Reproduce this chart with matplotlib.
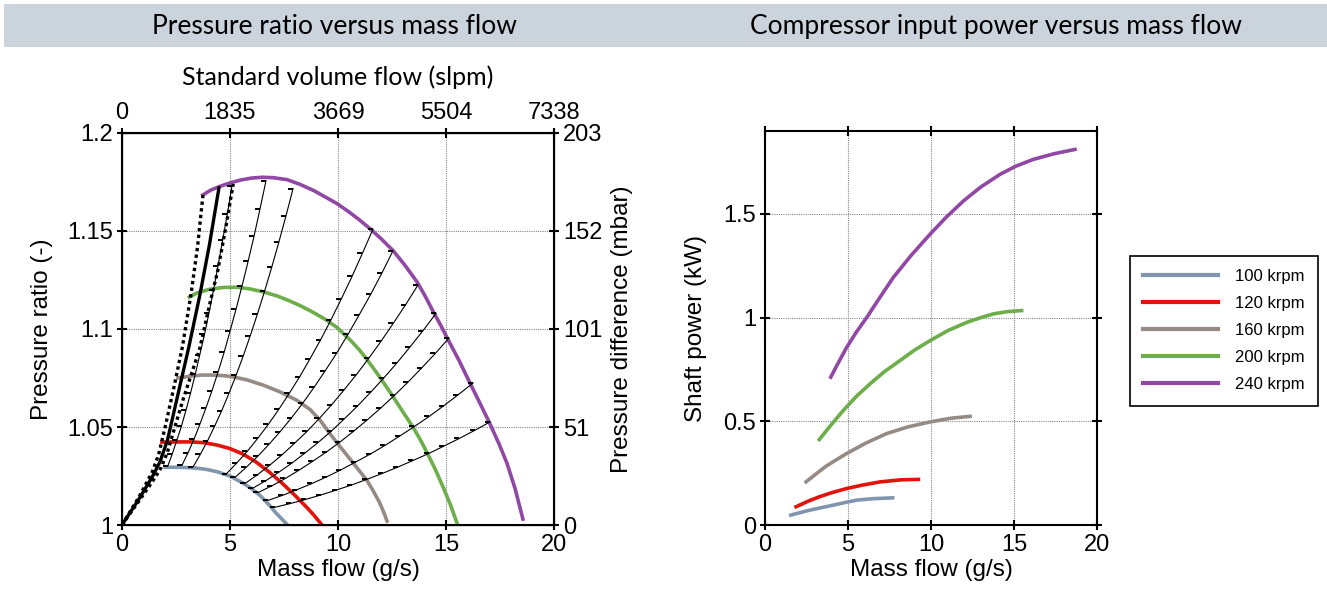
import matplotlib
matplotlib.use('Agg')
import matplotlib.pyplot as plt
from matplotlib.path import Path
from matplotlib.patches import Rectangle

plt.rcParams['font.family'] = ['Liberation Sans', 'DejaVu Sans']

speed_labels = ['100 krpm', '120 krpm', '160 krpm', '200 krpm', '240 krpm']
speed_colors = ['#8096AE', '#E3120B', '#968B84', '#6DAE4A', '#9148A5']

# speed lines, pressure ratio vs mass flow
pr_flow_100 = [2.0, 2.8, 3.38, 3.9, 4.4, 5.0, 5.6, 6.0, 6.4, 6.85, 7.1, 7.38, 7.64]
pr_ratio_100 = [1.0295, 1.0294, 1.0291, 1.0284, 1.0272, 1.0250, 1.0214, 1.0185, 1.0150, 1.0098, 1.0065, 1.0033, 1.0003]
pr_flow_120 = [1.85, 2.5, 3.2, 3.8, 4.4, 5.0, 5.6, 6.2, 6.8, 7.4, 8.0, 8.6, 8.9, 9.2]
pr_ratio_120 = [1.0423, 1.0424, 1.0424, 1.0420, 1.0408, 1.0390, 1.0362, 1.0322, 1.0272, 1.0215, 1.0152, 1.0085,
                1.0048, 1.0008]
pr_flow_160 = [2.59, 3.2, 3.7, 4.21, 4.7, 5.14, 5.8, 6.53, 7.3, 8.1, 8.7, 9.17, 9.6, 9.95, 10.35, 10.69, 11.0,
               11.34, 11.6, 11.9, 12.1, 12.27]
pr_ratio_160 = [1.0750, 1.0760, 1.0765, 1.0765, 1.0762, 1.0756, 1.0740, 1.0714, 1.0680, 1.0636, 1.0590, 1.0535,
                1.0470, 1.0420, 1.0365, 1.0318, 1.0275, 1.0228, 1.0180, 1.0120, 1.0070, 1.0020]
pr_flow_200 = [3.12, 3.5, 4.07, 4.7, 5.32, 5.9, 6.53, 7.2, 7.7, 8.24, 8.8, 9.4, 9.95, 10.6, 11.0, 11.34, 11.9,
               12.55, 13.0, 13.47, 13.8, 14.12, 14.5, 14.86, 15.2, 15.51]
pr_ratio_200 = [1.1163, 1.1185, 1.1203, 1.1212, 1.1213, 1.1205, 1.1190, 1.1168, 1.1146, 1.1120, 1.1088, 1.1050,
                1.1008, 1.0940, 1.0892, 1.0845, 1.0760, 1.0655, 1.0578, 1.0500, 1.0437, 1.0370, 1.0285, 1.0195,
                1.0105, 1.0010]
pr_flow_240 = [3.75, 4.1, 4.54, 5.0, 5.5, 6.0, 6.5, 7.0, 7.64, 8.24, 8.9, 9.5, 9.95, 10.5, 11.0, 11.48, 12.0,
               12.55, 13.1, 13.66, 14.05, 14.4, 14.75, 15.05, 15.6, 16.11, 16.6, 17.04, 17.45, 17.82, 18.2, 18.56]
pr_ratio_240 = [1.1684, 1.1708, 1.1728, 1.1745, 1.1760, 1.1770, 1.1774, 1.1772, 1.1762, 1.1738, 1.1705, 1.1668,
                1.1640, 1.1598, 1.1556, 1.1512, 1.1460, 1.1400, 1.1325, 1.1240, 1.1165, 1.1090, 1.1020, 1.0955,
                1.0840, 1.0724, 1.0615, 1.0515, 1.0415, 1.0316, 1.0185, 1.0030]

# surge line and its band
surge_flow = [0, 0.8, 1.4, 1.75, 2.1, 2.6, 3.1, 3.6, 4.05, 4.49]
surge_ratio = [1.0, 1.0135, 1.0245, 1.032, 1.043, 1.067, 1.091, 1.117, 1.143, 1.172]
surge_lo_flow = [0, 0.8, 1.4, 1.7, 2.0, 2.4, 2.8, 3.2, 3.5, 3.75]
surge_lo_ratio = [1.0, 1.0145, 1.027, 1.036, 1.050, 1.070, 1.091, 1.118, 1.142, 1.1684]
surge_hi_flow = [0, 0.8, 1.4, 1.8, 2.1, 2.8, 3.6, 4.07, 4.44, 4.81, 5.15]
surge_hi_ratio = [1.0, 1.0125, 1.022, 1.029, 1.037, 1.063, 1.090, 1.113, 1.130, 1.152, 1.174]

# throttle lines (fixed valve, speed sweep)
throttle_flow = [
    [2.12, 2.33, 2.54, 2.76, 2.97, 3.18, 3.39, 3.60, 3.82, 4.03, 4.24, 4.45, 4.66, 4.88, 5.09],
    [2.78, 3.06, 3.34, 3.61, 3.89, 4.17, 4.45, 4.73, 5.00, 5.28, 5.56, 5.84, 6.12, 6.39, 6.67],
    [3.30, 3.63, 3.96, 4.29, 4.62, 4.95, 5.28, 5.61, 5.94, 6.27, 6.60, 6.93, 7.26, 7.59, 7.92],
    [4.84, 5.32, 5.81, 6.29, 6.78, 7.26, 7.74, 8.23, 8.71, 9.20, 9.68, 10.16, 10.65, 11.13, 11.62],
    [5.23, 5.75, 6.28, 6.80, 7.32, 7.85, 8.37, 8.89, 9.41, 9.94, 10.46, 10.98, 11.51, 12.03, 12.55],
    [5.71, 6.28, 6.85, 7.42, 7.99, 8.57, 9.14, 9.71, 10.28, 10.85, 11.42, 11.99, 12.56, 13.13, 13.70],
    [6.06, 6.67, 7.27, 7.88, 8.48, 9.09, 9.70, 10.30, 10.91, 11.51, 12.12, 12.73, 13.33, 13.94, 14.54],
    [6.31, 6.94, 7.57, 8.20, 8.83, 9.47, 10.10, 10.73, 11.36, 11.99, 12.62, 13.25, 13.88, 14.51, 15.14],
    [6.77, 7.45, 8.12, 8.80, 9.48, 10.16, 10.83, 11.51, 12.19, 12.86, 13.54, 14.22, 14.89, 15.57, 16.25],
    [7.10, 7.81, 8.52, 9.23, 9.94, 10.65, 11.36, 12.07, 12.78, 13.49, 14.20, 14.91, 15.62, 16.33, 17.04],
]
throttle_ratio = [
    [1.0300, 1.0363, 1.0432, 1.0507, 1.0588, 1.0675, 1.0768, 1.0867, 1.0972, 1.1083, 1.1200, 1.1323, 1.1452, 1.1587, 1.1728],
    [1.0305, 1.0369, 1.0439, 1.0515, 1.0598, 1.0686, 1.0781, 1.0881, 1.0988, 1.1101, 1.1220, 1.1345, 1.1476, 1.1613, 1.1757],
    [1.0298, 1.0361, 1.0429, 1.0504, 1.0584, 1.0671, 1.0763, 1.0861, 1.0966, 1.1076, 1.1192, 1.1314, 1.1442, 1.1576, 1.1716],
    [1.0262, 1.0317, 1.0377, 1.0443, 1.0514, 1.0590, 1.0671, 1.0757, 1.0849, 1.0946, 1.1048, 1.1155, 1.1268, 1.1386, 1.1509],
    [1.0243, 1.0294, 1.0350, 1.0411, 1.0476, 1.0547, 1.0622, 1.0702, 1.0787, 1.0877, 1.0972, 1.1072, 1.1176, 1.1285, 1.1400],
    [1.0213, 1.0257, 1.0306, 1.0359, 1.0417, 1.0478, 1.0544, 1.0614, 1.0689, 1.0767, 1.0850, 1.0937, 1.1029, 1.1124, 1.1224],
    [1.0188, 1.0227, 1.0270, 1.0317, 1.0368, 1.0422, 1.0480, 1.0542, 1.0608, 1.0677, 1.0750, 1.0827, 1.0908, 1.0992, 1.1080],
    [1.0166, 1.0200, 1.0238, 1.0280, 1.0325, 1.0373, 1.0424, 1.0479, 1.0537, 1.0598, 1.0662, 1.0730, 1.0802, 1.0876, 1.0954],
    [1.0126, 1.0152, 1.0181, 1.0212, 1.0246, 1.0283, 1.0322, 1.0363, 1.0407, 1.0454, 1.0503, 1.0554, 1.0608, 1.0665, 1.0724],
    [1.0091, 1.0110, 1.0131, 1.0154, 1.0179, 1.0205, 1.0234, 1.0264, 1.0296, 1.0330, 1.0365, 1.0403, 1.0442, 1.0483, 1.0526],
]

# secondary axis labels
flow_ticks = [0, 5, 10, 15, 20]
slpm_labels = ['0', '1835', '3669', '5504', '7338']
ratio_ticks = [1.0, 1.05, 1.1, 1.15, 1.2]
ratio_labels = ['1', '1.05', '1.1', '1.15', '1.2']
mbar_labels = ['0', '51', '101', '152', '203']

# shaft power vs mass flow
pw_flow_100 = [1.55, 2.6, 3.3, 4.12, 4.8, 5.52, 6.5, 7.69]
pw_kw_100 = [0.048, 0.070, 0.082, 0.096, 0.108, 0.120, 0.127, 0.131]
pw_flow_120 = [1.87, 2.6, 3.3, 4.1, 4.92, 5.9, 6.93, 8.2, 9.24]
pw_kw_120 = [0.088, 0.115, 0.137, 0.158, 0.176, 0.193, 0.208, 0.218, 0.220]
pw_flow_160 = [2.47, 3.1, 3.7, 4.92, 6.1, 7.33, 8.6, 9.94, 11.2, 12.35]
pw_kw_160 = [0.208, 0.248, 0.285, 0.345, 0.396, 0.441, 0.473, 0.497, 0.515, 0.524]
pw_flow_200 = [3.27, 3.9, 4.72, 5.5, 6.33, 7.2, 8.13, 9.0, 9.94, 11.0, 12.15, 13.0, 13.75, 14.6, 15.46]
pw_kw_200 = [0.412, 0.475, 0.553, 0.620, 0.681, 0.740, 0.793, 0.843, 0.889, 0.937, 0.977, 1.000, 1.018, 1.029, 1.034]
pw_flow_240 = [3.96, 4.3, 4.92, 5.5, 6.13, 6.9, 7.73, 8.8, 9.94, 10.9, 11.95, 13.0, 14.16, 15.1, 16.16, 17.4, 18.67]
pw_kw_240 = [0.713, 0.765, 0.857, 0.930, 1.001, 1.095, 1.194, 1.300, 1.402, 1.483, 1.5625, 1.630, 1.691, 1.730,
             1.763, 1.790, 1.811]

TICK_SIZE = 17
LABEL_SIZE = 17.5


def style_axes(ax):
	for s in ax.spines.values():
		s.set_linewidth(1.5)
	ax.tick_params(direction='inout', length=7, width=1.5, labelsize=TICK_SIZE, pad=3)
	ax.grid(True, color='#888888', linestyle=(0, (1, 1)), linewidth=0.8)


fig = plt.figure(figsize=(13.27, 6.05), dpi=100)

# header band
fig.patches.append(Rectangle((4 / 1327, 1 - 47 / 605), 1, 43 / 605, transform=fig.transFigure,
                             facecolor='#CBD3DD', edgecolor='none', zorder=0))
fig.text(0.2524, 0.957, 'Pressure ratio versus mass flow', ha='center', va='center',
         fontsize=19, family=['Lato', 'DejaVu Sans'])
fig.text(0.7506, 0.957, 'Compressor input power versus mass flow', ha='center', va='center',
         fontsize=19, family=['Lato', 'DejaVu Sans'])

# ---- left: pressure ratio map
ax1 = fig.add_axes([0.0919, 0.1322, 0.3256, 0.648])
style_axes(ax1)

tick_mark = Path([(-1, 0), (0, 0)], [Path.MOVETO, Path.LINETO])
for xs, ys in zip(throttle_flow, throttle_ratio):
	ax1.plot(xs, ys, color='black', linewidth=0.8, marker=tick_mark, markersize=7,
	         markeredgewidth=1.4, zorder=3)

ax1.plot(surge_lo_flow, surge_lo_ratio, color='black', linewidth=2.4, linestyle=(0, (1, 1)), zorder=4)
ax1.plot(surge_hi_flow, surge_hi_ratio, color='black', linewidth=2.4, linestyle=(0, (1, 1)), zorder=4)
ax1.plot(surge_flow, surge_ratio, color='black', linewidth=2.4, zorder=4)

pr_flows = [pr_flow_100, pr_flow_120, pr_flow_160, pr_flow_200, pr_flow_240]
pr_ratios = [pr_ratio_100, pr_ratio_120, pr_ratio_160, pr_ratio_200, pr_ratio_240]
for xs, ys, c in zip(pr_flows, pr_ratios, speed_colors):
	ax1.plot(xs, ys, color=c, linewidth=2.6, zorder=2)

ax1.set_xlim(0, 20)
ax1.set_ylim(1.0, 1.2)
ax1.set_xticks(flow_ticks)
ax1.set_yticks(ratio_ticks, ratio_labels)
ax1.set_xlabel('Mass flow (g/s)', fontsize=LABEL_SIZE, labelpad=2)
ax1.set_ylabel('Pressure ratio (-)', fontsize=LABEL_SIZE, labelpad=10)

top = ax1.twiny()
top.set_xlim(0, 20)
top.set_xticks(flow_ticks, slpm_labels)
top.tick_params(direction='inout', length=7, width=1.5, labelsize=TICK_SIZE, pad=3)
top.set_xlabel('Standard volume flow (slpm)', fontsize=18, labelpad=12, family=['Lato', 'DejaVu Sans'])

right = ax1.twinx()
right.set_ylim(1.0, 1.2)
right.set_yticks(ratio_ticks, mbar_labels)
right.tick_params(direction='inout', length=7, width=1.5, labelsize=TICK_SIZE, pad=3)
right.set_ylabel('Pressure difference (mbar)', fontsize=LABEL_SIZE, labelpad=6)

# ---- right: shaft power
ax2 = fig.add_axes([0.5765, 0.1322, 0.2502, 0.6513])
style_axes(ax2)
ax2.tick_params(top=True, right=True)

pw_flows = [pw_flow_100, pw_flow_120, pw_flow_160, pw_flow_200, pw_flow_240]
pw_kws = [pw_kw_100, pw_kw_120, pw_kw_160, pw_kw_200, pw_kw_240]
for xs, ys, c, lab in zip(pw_flows, pw_kws, speed_colors, speed_labels):
	ax2.plot(xs, ys, color=c, linewidth=2.6, label=lab)

ax2.set_xlim(0, 20)
ax2.set_ylim(0, 1.9)
ax2.set_xticks(flow_ticks)
ax2.set_yticks([0, 0.5, 1.0, 1.5], ['0', '0.5', '1', '1.5'])
ax2.set_xlabel('Mass flow (g/s)', fontsize=LABEL_SIZE, labelpad=2)
ax2.set_ylabel('Shaft power (kW)', fontsize=LABEL_SIZE, labelpad=12)

leg = fig.legend(*ax2.get_legend_handles_labels(), loc='upper left', bbox_to_anchor=(0.8515, 0.5769),
                 bbox_transform=fig.transFigure, borderaxespad=0, fontsize=12, handlelength=4.5,
                 handletextpad=1.0, labelspacing=0.72, borderpad=0.8, fancybox=False, framealpha=1)
leg.get_frame().set_edgecolor('black')
leg.get_frame().set_linewidth(1.2)
for h in leg.get_lines():
	h.set_linewidth(3)

fig.savefig('out.png', dpi=100)
